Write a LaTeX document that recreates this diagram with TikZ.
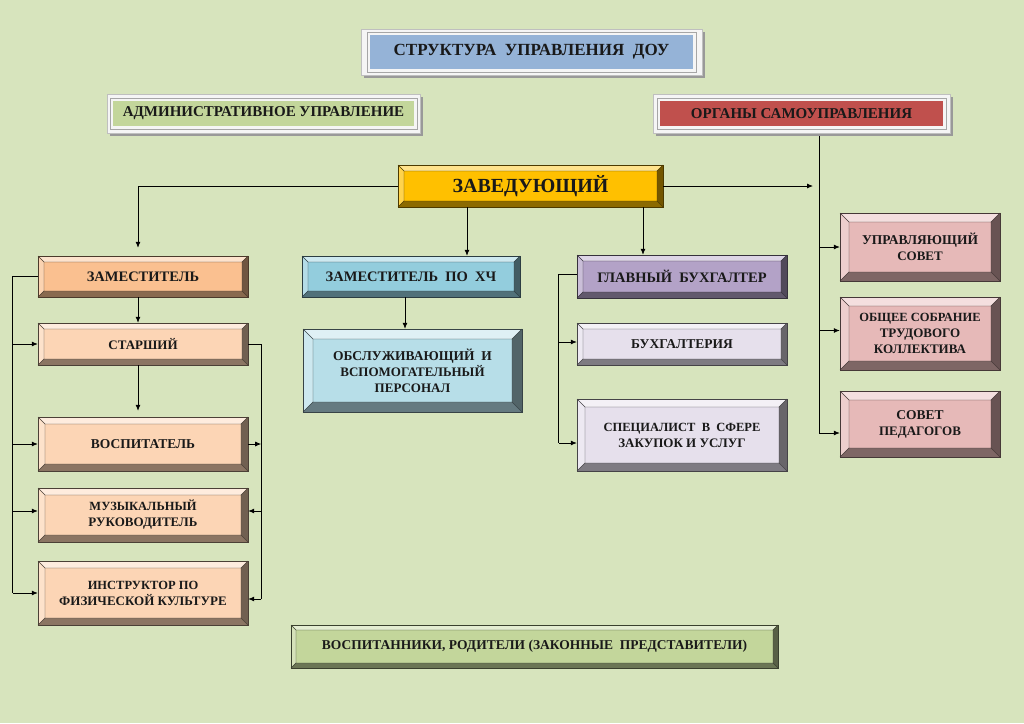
\documentclass[tikz,border=0pt]{standalone}
\usepackage{fontspec}
\setmainfont{Liberation Serif}
\usetikzlibrary{arrows.meta,calc}
\definecolor{bg}{HTML}{D7E4BD}
\definecolor{cTitle}{HTML}{95B3D7}
\definecolor{cAdm}{HTML}{C3D69B}
\definecolor{cOrg}{HTML}{C0504D}
\definecolor{cZav}{HTML}{FFC000}
\definecolor{cZam}{HTML}{FAC090}
\definecolor{cLeft}{HTML}{FCD5B5}
\definecolor{cHk}{HTML}{93CDDD}
\definecolor{cObs}{HTML}{B7DEE8}
\definecolor{cGb}{HTML}{B3A2C7}
\definecolor{cBux}{HTML}{E6E0EC}
\definecolor{cRight}{HTML}{E6B9B8}
\definecolor{cBottom}{HTML}{C3D69B}
\newcommand\fs[1]{\fontsize{#1}{16}\selectfont}
\tikzset{
  boxtext/.style={inner sep=0pt, align=center, text=black!90,
    font=\bfseries\fontsize{13}{16}\selectfont},
  labtext/.style={inner sep=0pt, align=center, text=black!90,
    font=\bfseries\fontsize{15}{17}\selectfont},
  arr/.style={line width=0.8pt, -{Latex[length=6pt,width=5pt]}},
  bus/.style={line width=0.8pt},
}
% name, x1, y1, x2, y2, colour, bevel, text
\newcommand\bevbox[8]{%
  \fill[#6!45!white] (#2,#3) rectangle (#4,#5);
  \fill[#6!70!white] (#2,#3) -- (#2+#7,#3+#7) -- (#2+#7,#5-#7) -- (#2,#5) -- cycle;
  \fill[#6!55!black] (#2,#5) -- (#2+#7,#5-#7) -- (#4-#7,#5-#7) -- (#4,#5) -- cycle;
  \fill[#6!45!black] (#4,#3) -- (#4-#7,#3+#7) -- (#4-#7,#5-#7) -- (#4,#5) -- cycle;
  \fill[#6] (#2+#7,#3+#7) rectangle (#4-#7,#5-#7);
  \draw[#6!30!black, line width=0.4pt] (#2,#3) -- (#2+#7,#3+#7) (#4,#3) -- (#4-#7,#3+#7)
     (#2,#5) -- (#2+#7,#5-#7) (#4,#5) -- (#4-#7,#5-#7) (#2+#7,#3+#7) rectangle (#4-#7,#5-#7);
  \draw[#6!30!black, line width=0.9pt] (#2,#3) rectangle (#4,#5);
  \node[boxtext, minimum width={(#4-#2)*1pt}, minimum height={(#5-#3)*1pt}]
     (#1) at ({(#2+#4)/2},{(#3+#5)/2}) {#8};
}
% name, x1, y1, x2, y2, inset x, inset y, colour, text
\newcommand\labframe[9]{%
  \fill[black!40] (#2+3,#3+3) rectangle (#4+3,#5+3);
  \fill[white!96!black] (#2,#3) rectangle (#4,#5);
  \draw[black!25, line width=0.5pt] (#2,#3) rectangle (#4,#5);
  \draw[black!35, line width=0.5pt] (#2+#6-3,#3+#7-3) rectangle (#4-#6+3,#5-#7+3);
  \fill[#8] (#2+#6,#3+#7) rectangle (#4-#6,#5-#7);
  \node[labtext, minimum width={(#4-#2)*1pt}, minimum height={(#5-#3)*1pt}]
     (#1) at ({(#2+#4)/2},{(#3+#5)/2}) {#9};
}
\begin{document}
\begin{tikzpicture}[x=1pt,y=-1pt]
\useasboundingbox (0,0) rectangle (1024,723);
\fill[bg] (0,0) rectangle (1024,723);

\labframe{title}{361}{29}{702}{75}{9}{6}{cTitle}{\fontsize{17}{19}\selectfont СТРУКТУРА~ УПРАВЛЕНИЯ~ ДОУ}
\labframe{adm}{107}{94}{420}{133}{6}{7}{cAdm}{АДМИНИСТРАТИВНОЕ УПРАВЛЕНИЕ}
\labframe{org}{653}{94}{950}{133}{7}{7}{cOrg}{ОРГАНЫ САМОУПРАВЛЕНИЯ}

\bevbox{zav}{398}{165}{663}{207}{cZav}{6}{\fontsize{20}{22}\selectfont ЗАВЕДУЮЩИЙ}

\bevbox{zam}{38}{256}{248}{297}{cZam}{6}{\fs{14.5}ЗАМЕСТИТЕЛЬ}
\bevbox{st}{38}{323}{248}{365}{cLeft}{6}{СТАРШИЙ}
\bevbox{vos}{38}{417}{248}{471}{cLeft}{7}{\fs{13.5}ВОСПИТАТЕЛЬ}
\bevbox{muz}{38}{488}{248}{542}{cLeft}{7}{\fs{12.5}МУЗЫКАЛЬНЫЙ\\РУКОВОДИТЕЛЬ}
\bevbox{instr}{38}{561}{248}{625}{cLeft}{7}{\fs{12.5}ИНСТРУКТОР ПО\\ФИЗИЧЕСКОЙ КУЛЬТУРЕ}

\bevbox{zamhk}{302}{256}{520}{297}{cHk}{6}{\fs{14.5}ЗАМЕСТИТЕЛЬ~ ПО~ ХЧ}
\bevbox{obs}{303}{329}{522}{412}{cObs}{10}{\fontsize{13.5}{17.5}\selectfont ОБСЛУЖИВАЮЩИЙ~ И\\ВСПОМОГАТЕЛЬНЫЙ\\ПЕРСОНАЛ}

\bevbox{gb}{577}{255}{787}{298}{cGb}{6}{\fs{14.5}ГЛАВНЫЙ~ БУХГАЛТЕР}
\bevbox{bux}{577}{323}{787}{365}{cBux}{6}{\fs{13.5}БУХГАЛТЕРИЯ}
\bevbox{spc}{577}{399}{787}{471}{cBux}{8}{\fs{12.5}СПЕЦИАЛИСТ~ В~ СФЕРЕ\\ЗАКУПОК И УСЛУГ}

\bevbox{us}{840}{213}{1000}{281}{cRight}{9}{\fs{13.5}УПРАВЛЯЮЩИЙ\\СОВЕТ}
\bevbox{os}{840}{297}{1000}{370}{cRight}{9}{\fs{12.5}ОБЩЕЕ СОБРАНИЕ\\ТРУДОВОГО\\КОЛЛЕКТИВА}
\bevbox{sp}{840}{391}{1000}{457}{cRight}{9}{\fs{13.5}СОВЕТ\\ПЕДАГОГОВ}

\bevbox{vp}{291}{625}{778}{668}{cBottom}{5}{\fs{13.5}ВОСПИТАННИКИ, РОДИТЕЛИ (ЗАКОННЫЕ~ ПРЕДСТАВИТЕЛИ)}

% connectors from the head
\coordinate (zl) at ([xshift=-5pt]zam.north);
\draw[arr] (zav.west) -| ([yshift=8pt]zl);
\draw[arr] ([xshift=-63.5pt]zav.south) -- ([xshift=-63.5pt]zav.south |- zamhk.north);
\draw[arr] ([xshift=112.5pt]zav.south) -- ([xshift=112.5pt]zav.south |- gb.north);

% self-government bus
\coordinate (bt) at ([xshift=17.5pt,yshift=-3pt]org.south);
\draw[arr, shorten >=6pt] (zav.east) -- (zav.east -| bt);
\draw[bus] (bt) -- ([yshift=-9pt]bt |- sp.west);
\draw[arr] (bt |- us.west) -- (us.west);
\draw[arr] ([yshift=3pt]bt |- os.west) -- ([yshift=3pt]os.west);
\draw[arr] ([yshift=-9pt]bt |- sp.west) -- ([yshift=-9pt]sp.west);

% left column
\draw[arr] ([xshift=-5pt]zam.south) -- ([xshift=-5pt]st.north);
\draw[arr] ([xshift=-5pt]st.south) -- ([xshift=-5pt,yshift=6pt]vos.north);
\coordinate (lb) at ([xshift=-25pt]zam.west);
\draw[bus] (zam.west) -- (lb) -- (lb |- instr.west);
\draw[arr] (lb |- st.west) -- (st.west);
\draw[arr] (lb |- vos.west) -- (vos.west);
\draw[arr] ([yshift=4pt]lb |- muz.west) -- ([yshift=4pt]muz.west);
\draw[arr] (lb |- instr.west) -- (instr.west);

\coordinate (rb) at ([xshift=13pt]st.east);
\draw[bus] (st.east) -- (rb) -- ([yshift=-6pt]rb |- instr.east);
\draw[arr] (vos.east) -- (rb |- vos.east);
\draw[arr] ([yshift=4pt]rb |- muz.east) -- ([yshift=4pt]muz.east);
\draw[arr] ([yshift=-6pt]rb |- instr.east) -- ([yshift=-6pt]instr.east);

% middle column
\draw[arr] ([xshift=-6pt]zamhk.south) -- ([xshift=-6pt]zamhk.south |- obs.north);

% accounting bus
\coordinate (bb) at ([xshift=-18pt,yshift=2.5pt]gb.west);
\draw[bus] ([yshift=2.5pt]gb.west) -- (bb) -- ([yshift=-8pt]bb |- spc.west);
\draw[arr] ([yshift=2pt]bb |- bux.west) -- ([yshift=2pt]bux.west);
\draw[arr] ([yshift=-8pt]bb |- spc.west) -- ([yshift=-8pt]spc.west);
\end{tikzpicture}
\end{document}
